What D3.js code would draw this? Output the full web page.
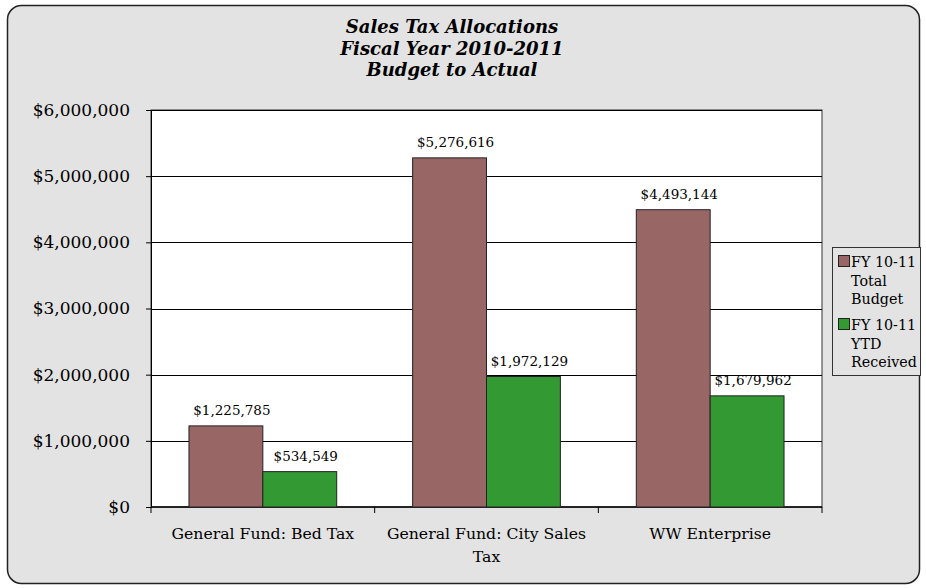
<!DOCTYPE html>
<html>
<head>
<meta charset="utf-8">
<script src="https://cdn.jsdelivr.net/npm/d3@7"></script>
<style>
  body { margin: 0; background: #ffffff; }
  svg text { font-family: "DejaVu Serif", serif; fill: #000; }
</style>
</head>
<body>
<svg id="chart"></svg>
<script>
// chart data
let categories = ["General Fund: Bed Tax", "General Fund: City Sales Tax", "WW Enterprise"]
let categoryLines = [["General Fund: Bed Tax"], ["General Fund: City Sales", "Tax"], ["WW Enterprise"]]
let seriesNames = ["FY 10-11 Total Budget", "FY 10-11 YTD Received"]
let legendLines = [["FY 10-11", "Total", "Budget"], ["FY 10-11", "YTD", "Received"]]
let budget = [1225785, 5276616, 4493144]
let received = [534549, 1972129, 1679962]
let yTicks = [0, 1000000, 2000000, 3000000, 4000000, 5000000, 6000000]
let titleLines = ["Sales Tax Allocations", "Fiscal Year 2010-2011", "Budget to Actual"]
let colors = ["#996666", "#339933"]

function getConfig() {
  let width = 926
  let height = 588
  let margin = { top: 110, bottom: 81, left: 151, right: 104 }
  let bodyWidth = width - margin.left - margin.right
  let bodyHeight = height - margin.top - margin.bottom
  let container = d3.select("#chart")
    .attr("width", width)
    .attr("height", height)
  return { width, height, margin, bodyWidth, bodyHeight, container }
}

function getScales(config) {
  let { bodyWidth, bodyHeight } = config
  let xScale = d3.scaleBand()
    .domain(categories)
    .range([0, bodyWidth])
    .paddingInner(0)
    .paddingOuter(0)
  // two bars side by side, with room either side inside each band
  let xSub = d3.scaleBand()
    .domain(seriesNames)
    .range([0, xScale.bandwidth()])
    .paddingOuter(0.514)
  let yScale = d3.scaleLinear()
    .domain([0, 6000000])
    .range([bodyHeight, 0])
  return { xScale, xSub, yScale }
}

function drawFrame(config) {
  let { width, height, container } = config
  container.append("rect")
    .attr("x", 7.5).attr("y", 5.5)
    .attr("width", width - 14).attr("height", height - 10)
    .attr("rx", 14)
    .style("fill", "#e3e3e3")
    .style("stroke", "#222")
    .style("stroke-width", 1.5)

  container.append("g").selectAll("text")
    .data(titleLines)
    .enter().append("text")
    .attr("x", 452)
    .attr("y", (d, i) => 33 + i * 21.5)
    .attr("text-anchor", "middle")
    .style("font-size", "18px")
    .style("font-weight", "bold")
    .style("font-style", "italic")
    .text(d => d)
}

function drawChart(config, scales) {
  let { margin, container, bodyWidth, bodyHeight } = config
  let { xScale, xSub, yScale } = scales

  let body = container.append("g")
    .attr("transform", `translate(${margin.left},${margin.top})`)

  body.append("rect")
    .attr("width", bodyWidth).attr("height", bodyHeight)
    .style("fill", "#fff")
    .style("stroke", "#333")
    .style("stroke-width", 1)

  // gridlines
  body.append("g").selectAll("line")
    .data(yTicks.slice(1))
    .enter().append("line")
    .attr("x1", 0).attr("x2", bodyWidth)
    .attr("y1", d => Math.round(yScale(d)) + 0.5)
    .attr("y2", d => Math.round(yScale(d)) + 0.5)
    .style("stroke", "#000")
    .style("stroke-width", 1)

  // y axis
  let yAxis = body.append("g")
    .call(d3.axisLeft(yScale)
      .tickValues(yTicks)
      .tickSize(5)
      .tickPadding(16)
      .tickFormat(d => "$" + d3.format(",")(d)))
  yAxis.selectAll("text").style("font-size", "17px")
  yAxis.selectAll("line, path").style("stroke", "#000")

  // x axis with ticks at category boundaries
  let xAxis = body.append("g")
    .attr("transform", `translate(0,${bodyHeight})`)
  xAxis.append("line")
    .attr("x1", 0).attr("x2", bodyWidth)
    .style("stroke", "#000").style("stroke-width", 1.5)
  xAxis.selectAll(".tick")
    .data(categories.concat(["end"]))
    .enter().append("line")
    .attr("class", "tick")
    .attr("x1", (d, i) => i * xScale.bandwidth())
    .attr("x2", (d, i) => i * xScale.bandwidth())
    .attr("y1", 0).attr("y2", 6)
    .style("stroke", "#000")
  xAxis.selectAll(".cat")
    .data(categories)
    .enter().append("text")
    .attr("class", "cat")
    .attr("text-anchor", "middle")
    .attr("transform", d => `translate(${xScale(d) + xScale.bandwidth() / 2},32)`)
    .style("font-size", "15.7px")
    .each(function(d, i) {
      d3.select(this).selectAll("tspan")
        .data(categoryLines[i])
        .enter().append("tspan")
        .attr("x", 0)
        .attr("dy", (t, j) => j === 0 ? 0 : 23)
        .text(t => t)
    })

  // bars
  let groups = body.selectAll(".group")
    .data(categories)
    .enter().append("g")
    .attr("class", "group")
    .attr("transform", d => `translate(${xScale(d)},0)`)

  let rows = groups.selectAll("rect")
    .data((d, i) => [
      { series: seriesNames[0], value: budget[i], color: colors[0] },
      { series: seriesNames[1], value: received[i], color: colors[1] }
    ])
    .enter()

  rows.append("rect")
    .attr("x", d => xSub(d.series))
    .attr("y", d => yScale(d.value))
    .attr("width", xSub.bandwidth())
    .attr("height", d => bodyHeight - yScale(d.value))
    .style("fill", d => d.color)
    .style("stroke", "#222")
    .style("stroke-width", 1)

  // value labels sit a little right of the bar centre, as in the original
  groups.selectAll("text")
    .data((d, i) => [
      { series: seriesNames[0], value: budget[i] },
      { series: seriesNames[1], value: received[i] }
    ])
    .enter().append("text")
    .attr("x", d => xSub(d.series) + xSub.bandwidth() / 2 + 6)
    .attr("y", d => yScale(d.value) - 11)
    .attr("text-anchor", "middle")
    .style("font-size", "13.5px")
    .text(d => "$" + d3.format(",")(d.value))
}

function drawLegend(config) {
  let { container } = config
  let legend = container.append("g")
    .attr("transform", "translate(832,247)")
  legend.append("rect")
    .attr("x", 0.5).attr("y", 0.5)
    .attr("width", 88).attr("height", 128)
    .style("fill", "#e3e3e3")
    .style("stroke", "#333")

  let items = legend.selectAll(".item")
    .data(seriesNames)
    .enter().append("g")
    .attr("class", "item")
    .attr("transform", (d, i) => `translate(0,${8 + i * 63})`)

  items.append("rect")
    .attr("x", 6.5).attr("y", 0.5)
    .attr("width", 11).attr("height", 11)
    .style("fill", (d, i) => colors[i])
    .style("stroke", "#222")

  items.append("text")
    .attr("transform", "translate(19,12)")
    .style("font-size", "14.3px")
    .each(function(d, i) {
      d3.select(this).selectAll("tspan")
        .data(legendLines[i])
        .enter().append("tspan")
        .attr("x", 0)
        .attr("dy", (t, j) => j === 0 ? 0 : 18.5)
        .text(t => t)
    })
}

function showData() {
  let config = getConfig()
  let scales = getScales(config)
  drawFrame(config)
  drawChart(config, scales)
  drawLegend(config)
}

showData()
</script>
</body>
</html>
